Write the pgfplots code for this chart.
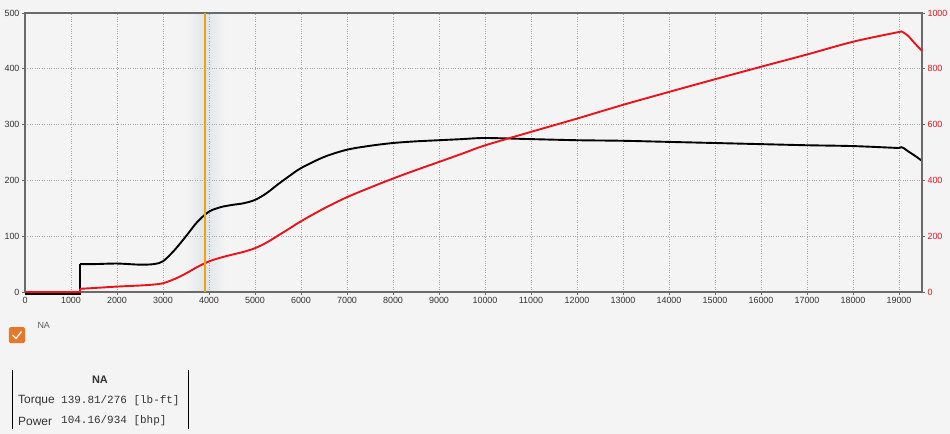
\documentclass[border=0pt]{standalone}
\usepackage{pgfplots}
\pgfplotsset{compat=1.18}
\usepackage{fontspec}
\setmainfont{Liberation Sans}
\setmonofont{Liberation Mono}
\definecolor{bg}{HTML}{F4F4F4}
\definecolor{pred}{HTML}{E8141B}
\definecolor{amber}{HTML}{F2A20C}
\definecolor{chk}{HTML}{E8772A}
\definecolor{txt}{HTML}{333333}
\definecolor{glow}{HTML}{DFE4EB}
\definecolor{frame}{HTML}{6A6A6A}
\definecolor{gridc}{HTML}{A8A8A8}
\pgfplotstableread{
rpm T
1200 50
1500 50
2000 51
2500 49
2800 50
3000 55
3250 75
3500 100
3750 126
4000 144
4250 152
4500 156
4750 159
5000 165
5250 177
5500 193
5750 208
6000 222
6500 242
7000 255
7500 262
8000 267
8500 270
9000 272
9500 274
10000 276
11000 274
12000 272
13000 271
14000 269
15000 267
16000 265
17000 263
18000 261.5
19000 258
}\torque
\pgfplotstableread{
rpm P
1200 11.4
1500 14.3
2000 19.4
2500 23.3
2800 26.7
3000 31.4
3250 46.4
3500 66.6
3750 90.0
4000 109.7
4250 123.0
4500 133.7
4750 143.8
5000 157.1
5250 176.9
5500 202.1
5750 227.7
6000 253.6
6500 299.5
7000 339.9
7500 374.1
8000 406.7
8500 437.0
9000 466.1
9500 495.6
10000 525.5
11000 573.9
12000 621.5
13000 670.8
14000 717.1
15000 762.6
16000 807.3
17000 851.3
18000 897.0
19000 932.0
}\power
\begin{document}
\begin{tikzpicture}
\fill[bg] (-25bp,-142bp) rectangle (925bp,292bp);
% soft glow around the cursor (3913 rpm -> 180bp)
\fill[left color=bg, right color=glow] (161bp,0bp) rectangle (180bp,279bp);
\fill[left color=glow, right color=bg] (180bp,0bp) rectangle (200bp,279bp);
\begin{axis}[
  scale only axis, width=897bp, height=279bp,
  xmin=0, xmax=19500, ymin=0, ymax=500,
  xtick={0,1000,...,19000}, ytick={0,100,...,500},
  grid=major, major grid style={dotted, gridc, line width=0.7pt},
  axis line style={frame, line width=1.6pt},
  tick align=outside, major tick length=3bp, tick style={frame, line width=0.6pt},
  xtick pos=bottom, ytick pos=left,
  ticklabel style={font=\fontsize{9}{10}\selectfont, text=txt},
  /pgf/number format/assume math mode=true,
  /pgf/number format/1000 sep={},
  scaled x ticks=false, scaled y ticks=false,
  yticklabel style={xshift=1bp},
  xticklabel style={yshift=1bp},
  clip=false,
]
\addplot[black, line width=1.9bp] coordinates {(0,-3) (1200,-3) (1200,50)};
\addplot[black, line width=1.9bp, smooth] table[x=rpm,y=T] {\torque};
\addplot[black, line width=1.9bp, sharp plot] coordinates {(19000,258) (19050,259.5) (19100,258) (19200,252) (19350,244) (19500,235)};
\end{axis}
\begin{axis}[
  scale only axis, width=897bp, height=279bp,
  xmin=0, xmax=19500, ymin=0, ymax=1000,
  ytick={0,200,...,1000},
  axis x line=none, axis y line*=right,
  axis line style={frame, line width=1.6pt},
  tick align=outside, major tick length=3bp, tick style={frame, line width=0.6pt},
  yticklabel style={font=\fontsize{9}{10}\selectfont, text=pred, xshift=-1bp},
  /pgf/number format/assume math mode=true,
  /pgf/number format/1000 sep={},
  scaled y ticks=false,
  clip=false,
]
\addplot[pred, line width=1.9bp] coordinates {(0,0) (1200,0) (1200,11.4)};
\addplot[pred, line width=1.9bp, smooth] table[x=rpm,y=P] {\power};
\addplot[pred, line width=1.9bp, sharp plot] coordinates {(19000,932) (19050,934) (19100,930) (19200,918) (19350,890) (19500,864)};
\addplot[amber, line width=1.8bp] coordinates {(3913,0) (3913,1000)};
\end{axis}
% checkbox and label
\fill[chk, rounded corners=1.5bp] (-16bp,-51bp) rectangle (0bp,-35bp);
\draw[white, line width=1.4bp] (-12.5bp,-43bp) -- (-9bp,-46.5bp) -- (-3.5bp,-39.5bp);
\node[anchor=west, text=txt!80, font=\fontsize{9}{10}\selectfont] at (9bp,-33bp) {NA};
% info box
\draw[black, line width=0.6bp] (-13bp,-137bp) -- (-13bp,-78bp);
\draw[black, line width=0.6bp] (163bp,-137bp) -- (163bp,-78bp);
\node[font=\fontsize{11}{12}\selectfont\bfseries, text=txt] at (75bp,-88bp) {NA};
\node[anchor=west, font=\fontsize{12}{13}\selectfont, text=txt, inner sep=0] at (-7bp,-109bp) {Torque};
\node[anchor=west, font=\ttfamily\fontsize{11}{12}\selectfont, text=txt, inner sep=0] at (36bp,-109bp) {139.81/276 [lb-ft]};
\node[anchor=west, font=\fontsize{12}{13}\selectfont, text=txt, inner sep=0] at (-7bp,-129bp) {Power};
\node[anchor=west, font=\ttfamily\fontsize{11}{12}\selectfont, text=txt, inner sep=0] at (36bp,-129bp) {104.16/934 [bhp]};
\pgfresetboundingbox
\path[use as bounding box] (-25bp,-142bp) rectangle (925bp,292bp);
\end{tikzpicture}
\end{document}
